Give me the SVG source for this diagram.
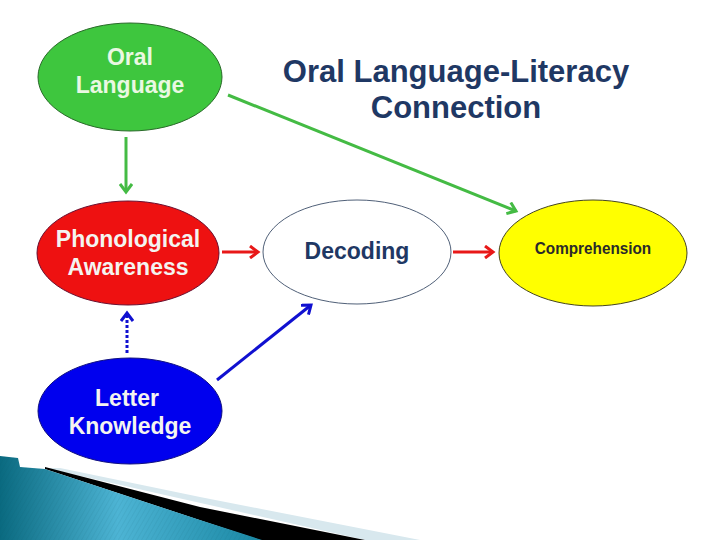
<svg xmlns="http://www.w3.org/2000/svg" width="720" height="540" viewBox="0 0 720 540">
<defs>
<style>
.lbl{font-family:"Liberation Sans",Arial,sans-serif;font-weight:bold;text-anchor:middle}
.w{fill:#f4f4f0;font-size:23px}
.title{fill:#1f3864;font-size:31px}
</style>
<marker id="ag" markerWidth="14" markerHeight="14" refX="11" refY="7" orient="auto" markerUnits="userSpaceOnUse"><path d="M3,1 L11,7 L3,13" fill="none" stroke="#44bb44" stroke-width="3"/></marker>
<marker id="ar" markerWidth="14" markerHeight="14" refX="11" refY="7" orient="auto" markerUnits="userSpaceOnUse"><path d="M3,1 L11,7 L3,13" fill="none" stroke="#e81818" stroke-width="3"/></marker>
<marker id="ab" markerWidth="14" markerHeight="14" refX="11" refY="7" orient="auto" markerUnits="userSpaceOnUse"><path d="M3,1 L11,7 L3,13" fill="none" stroke="#1010d0" stroke-width="3"/></marker>
<linearGradient id="teal" x1="0" y1="0" x2="1" y2="0">
<stop offset="0" stop-color="#0a6a80"/>
<stop offset="0.45" stop-color="#4db4d4"/>
<stop offset="1" stop-color="#1a88a4"/>
</linearGradient>
<pattern id="hatch" width="4" height="4" patternUnits="userSpaceOnUse" patternTransform="rotate(30)"><line x1="0" y1="0" x2="0" y2="4" stroke="#0a5060" stroke-opacity="0.15" stroke-width="1"/></pattern>
</defs>
<rect width="720" height="540" fill="#ffffff"/>

<g id="decoration">
<polygon points="60,468 200,497 420,540 365,540 45,468" fill="#d8e8ee"/>
<polygon points="45,467 200,507 365,540 260,540 45,469" fill="#000000"/>
<polygon points="0,456 18,458 20,467 45,469 200,520 262,540 0,540" fill="url(#teal)"/>
<polygon points="0,456 18,458 20,467 45,469 200,520 262,540 0,540" fill="url(#hatch)"/>
</g>

<g id="title">
<text class="lbl title" x="456" y="82">Oral Language-Literacy</text>
<text class="lbl title" x="456" y="118">Connection</text>
</g>

<g id="connectors">
<line x1="126" y1="137" x2="126" y2="192" stroke="#44bb44" stroke-width="3" marker-end="url(#ag)"/>
<line x1="228" y1="95" x2="516" y2="211" stroke="#44bb44" stroke-width="3" marker-end="url(#ag)"/>
<line x1="222" y1="252" x2="258" y2="252" stroke="#e81818" stroke-width="3" marker-end="url(#ar)"/>
<line x1="453" y1="252" x2="493" y2="252" stroke="#e81818" stroke-width="3" marker-end="url(#ar)"/>
<line x1="127" y1="353" x2="127" y2="313" stroke="#1010d0" stroke-width="3" stroke-dasharray="3,2" marker-end="url(#ab)"/>
<line x1="217" y1="380" x2="311" y2="305" stroke="#1010d0" stroke-width="3" marker-end="url(#ab)"/>
</g>

<g id="oral-language">
<ellipse cx="130" cy="77" rx="92" ry="54" fill="#3ec63e" stroke="#2a6a2a" stroke-width="1"/>
<text class="lbl" x="130" y="65" font-size="23" fill="#eaf8e2">Oral</text>
<text class="lbl" x="130" y="93" font-size="23" fill="#eaf8e2">Language</text>
</g>

<g id="phonological-awareness">
<ellipse cx="128" cy="253" rx="91" ry="52" fill="#ee1111" stroke="#6a1030" stroke-width="1"/>
<text class="lbl w" x="128" y="247">Phonological</text>
<text class="lbl w" x="128" y="275">Awareness</text>
</g>

<g id="decoding">
<ellipse cx="357" cy="252" rx="94" ry="52" fill="#ffffff" stroke="#506078" stroke-width="1"/>
<text class="lbl" x="357" y="259" font-size="23" fill="#1f3864">Decoding</text>
</g>

<g id="comprehension">
<ellipse cx="593" cy="253" rx="94" ry="53" fill="#ffff00" stroke="#444422" stroke-width="1"/>
<text class="lbl" x="593" y="254" font-size="17" fill="#2a2a2a" transform="translate(593 0) scale(0.9 1) translate(-593 0)">Comprehension</text>
</g>

<g id="letter-knowledge">
<ellipse cx="130" cy="411" rx="92" ry="53" fill="#0000ee" stroke="#101080" stroke-width="1"/>
<text class="lbl w" x="127" y="406">Letter</text>
<text class="lbl w" x="130" y="434">Knowledge</text>
</g>
</svg>
